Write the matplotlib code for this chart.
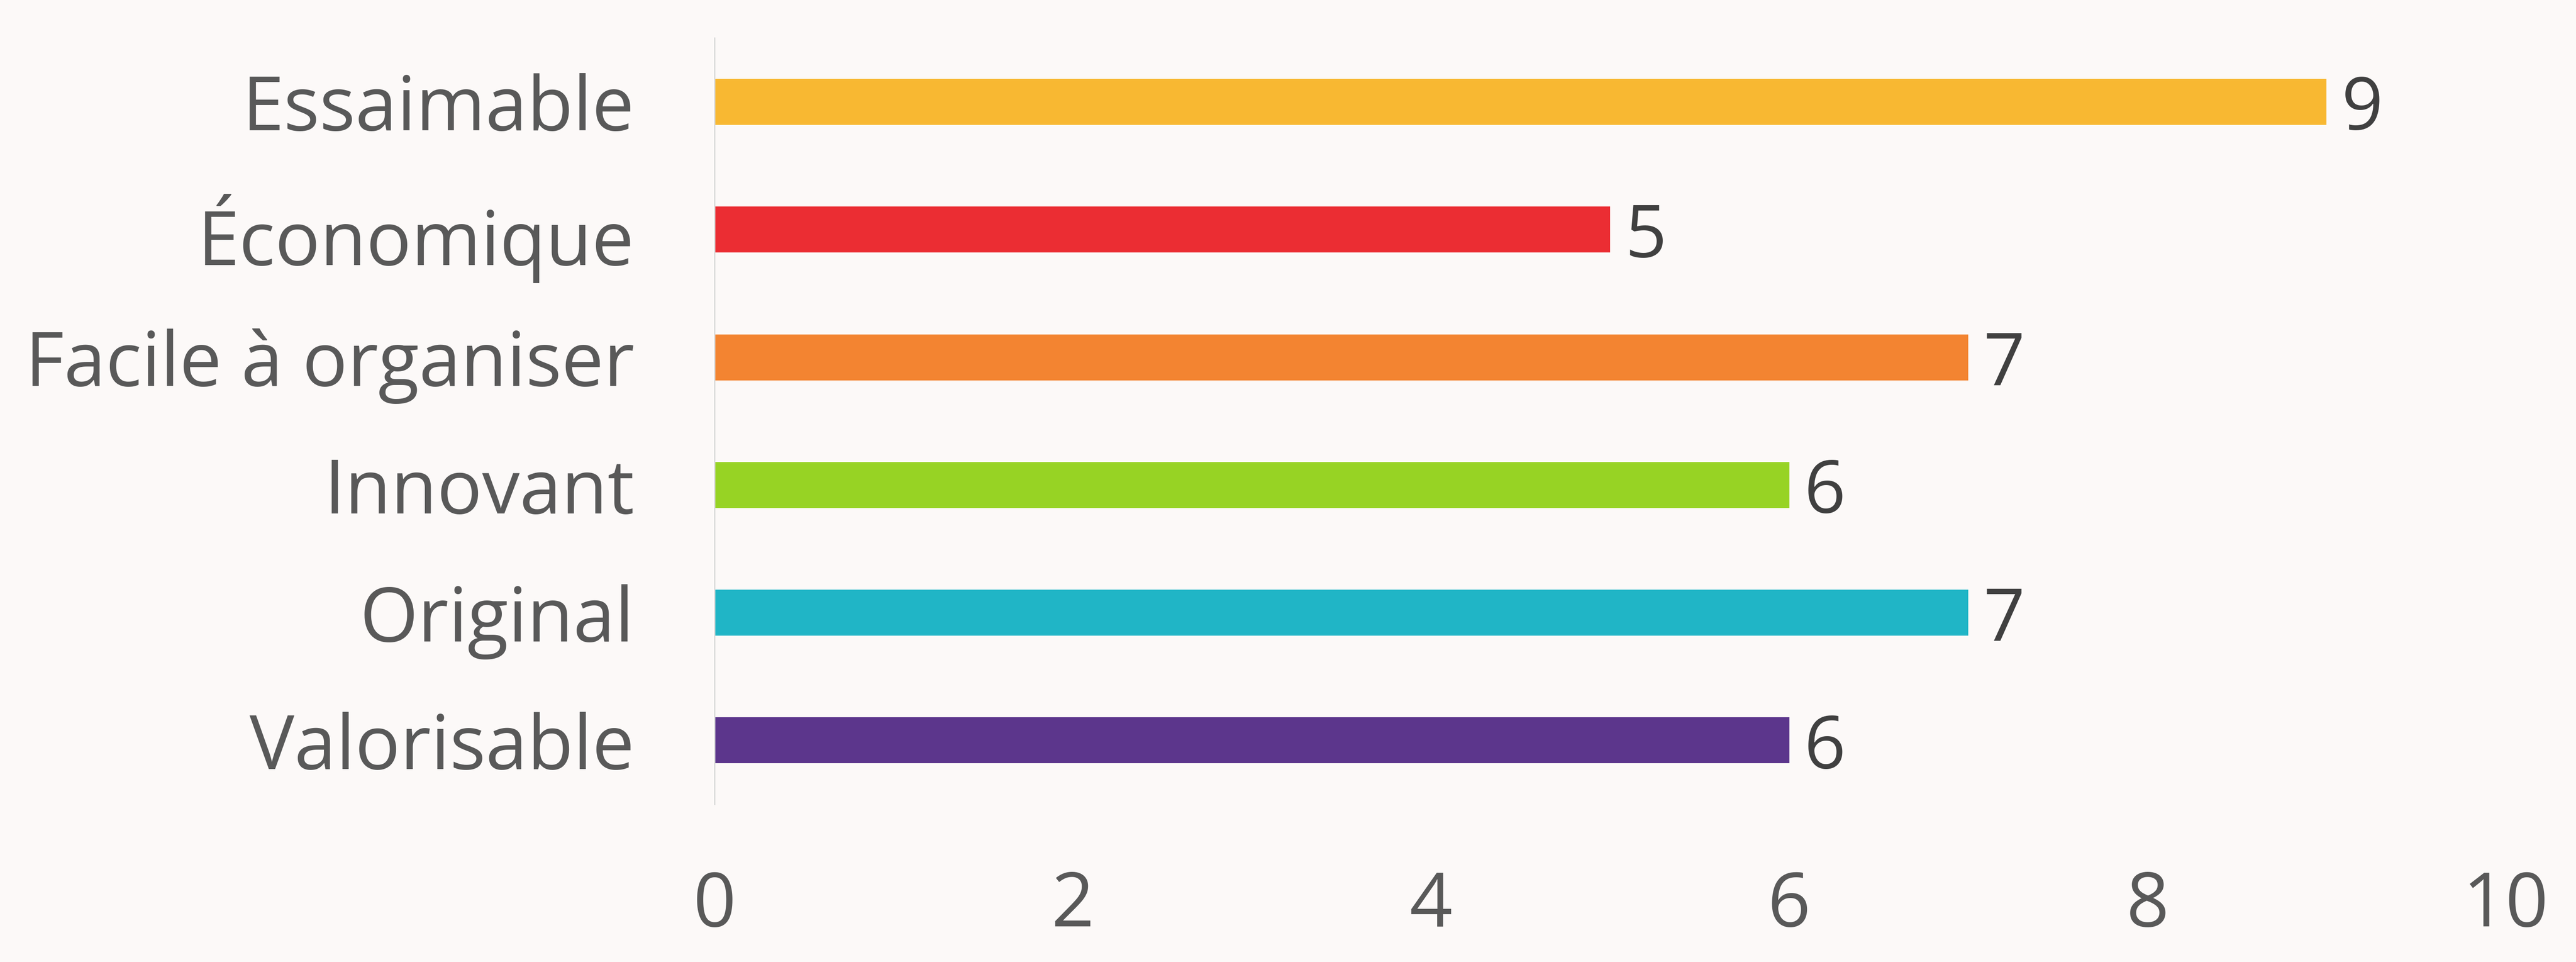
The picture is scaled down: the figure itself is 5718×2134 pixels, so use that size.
import matplotlib.pyplot as plt

# Horizontal bar chart - criteria scores
categories = ['Essaimable', 'Économique', 'Facile à organiser', 'Innovant', 'Original', 'Valorisable']
scores = [9, 5, 7, 6, 7, 6]
bar_colors = ['#F8B832', '#EB2D33', '#F38431', '#97D324', '#20B5C6', '#5C368C']
x_ticks = [0, 2, 4, 6, 8, 10]

plt.rcParams['font.family'] = ['Open Sans', 'DejaVu Sans']

fig = plt.figure(figsize=(28.59, 10.67), dpi=200, facecolor='#FCF9F8')
ax = fig.add_axes([0.2774, 0.164, 0.6953, 0.7965])
ax.set_facecolor('#FCF9F8')

y_pos = list(range(len(categories)))
ax.barh(y_pos, scores, height=0.36, color=bar_colors)

for y, v in zip(y_pos, scores):
    ax.annotate(str(v), (v, y), xytext=(12, 0), textcoords='offset points',
                va='center_baseline', ha='left', fontsize=58, color='#404040')

ax.set_yticks(y_pos)
ax.set_yticklabels(categories, fontsize=60, color='#595959')
ax.set_xticks(x_ticks)
ax.set_xticklabels([str(t) for t in x_ticks], fontsize=60, color='#595959')
ax.set_xlim(0, 10)
ax.set_ylim(5.5, -0.5)

ax.tick_params(axis='y', length=0, pad=64)
ax.tick_params(axis='x', length=0, pad=52)
for side in ['top', 'right', 'bottom']:
    ax.spines[side].set_visible(False)
ax.spines['left'].set_color('#D9D9D9')
ax.spines['left'].set_linewidth(1.0)

fig.savefig('out.png', dpi=200, facecolor=fig.get_facecolor())
